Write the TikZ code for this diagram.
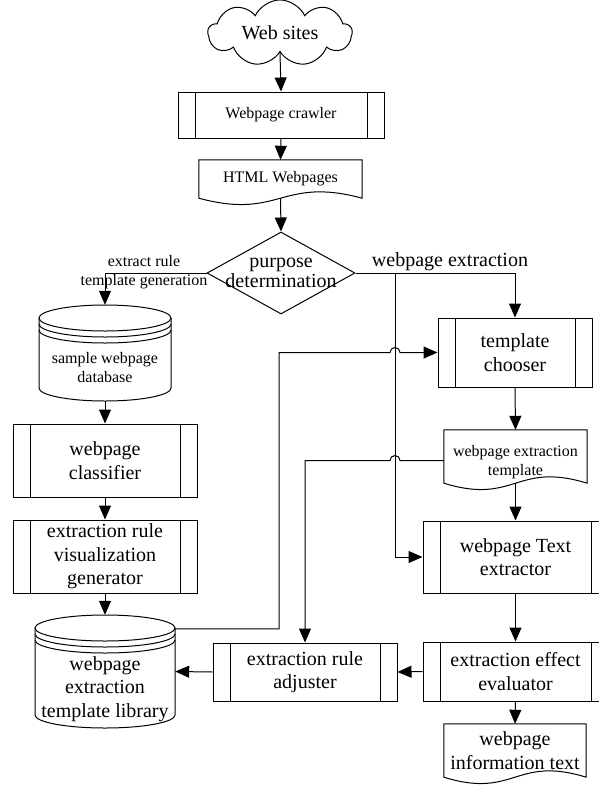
\documentclass[tikz,border=0pt]{standalone}
\usepackage{fontspec}
\setmainfont{Liberation Serif}
\usetikzlibrary{arrows.meta,shapes.symbols,shapes.geometric,calc}

\tikzset{
  lw/.style={line width=1pt},
  arr/.style={line width=1pt, -{Triangle[length=14pt,width=12pt]}},
  big/.style={font=\fontsize{20}{23.5}\selectfont, align=center},
  small/.style={font=\fontsize{16}{19}\selectfont, align=center},
  procbox/.style={draw, line width=1pt, inner sep=0pt, align=center,
    path picture={
      \draw[line width=1pt] ([xshift=17pt]path picture bounding box.north west) -- ([xshift=17pt]path picture bounding box.south west);
      \draw[line width=1pt] ([xshift=-17pt]path picture bounding box.north east) -- ([xshift=-17pt]path picture bounding box.south east);
    }},
  hold/.style={draw=none, inner sep=0pt},
}

% document shape (wavy bottom) around a named node
\newcommand\docoutline[1]{%
  \draw[lw] (#1.south west) -- (#1.north west) -- (#1.north east) -- (#1.south east)
    .. controls ($(#1.south)+(0,-22)$) and ($(#1.south)+(0,22)$) .. (#1.south west) -- cycle;}

% stacked-disk drum: centre x, top y, bottom y, x radius, y radius
\newcommand\drumoutline[5]{%
  \draw[lw] (#1,#2+#5) ellipse[x radius=#4pt, y radius=#5pt];
  \draw[lw] (#1-#4,#2+#5) -- (#1-#4,#3-#5)
    arc[start angle=180, end angle=360, x radius=#4pt, y radius=#5pt] -- (#1+#4,#2+#5);
  \draw[lw] (#1-#4,#2+#5+6) arc[start angle=180, end angle=360, x radius=#4pt, y radius=#5pt];
  \draw[lw] (#1-#4,#2+#5+12) arc[start angle=180, end angle=360, x radius=#4pt, y radius=#5pt];}

\begin{document}
\begin{tikzpicture}[x=1pt, y=-1pt]
\useasboundingbox (0,0) rectangle (598,785);

% ---- top column ----
\node[cloud, draw, line width=1pt, cloud puffs=9, cloud puff arc=130, aspect=2.4,
      minimum width=144pt, minimum height=60pt, inner sep=0pt, big] (web) at (280,33) {Web sites};
\node[procbox, small, minimum width=206pt, minimum height=46pt] (crawl) at (281,115) {Webpage crawler};
\node[hold, small, minimum width=163pt, minimum height=38pt] (html) at (280.5,179) {HTML Webpages};
\docoutline{html}
\node[diamond, draw, line width=1pt, inner sep=0pt, minimum width=148pt, minimum height=82pt] (purp) at (281,273) {};
\node[big, inner sep=0pt, font=\fontsize{20}{20}\selectfont] (purp-t) at (281,273) {purpose\\determination};

% ---- left column ----
\node[hold, minimum width=132pt, minimum height=96pt] (sdb) at (105,353) {};
\drumoutline{105}{305}{401}{66}{13}
\node[small, inner sep=0pt] (sdb-t) at (105,367.5) {sample webpage\\database};
\node[procbox, big, minimum width=184pt, minimum height=73pt] (cls) at (105,460.5) {webpage\\classifier};
\node[procbox, big, minimum width=184pt, minimum height=73pt] (gen) at (105,556.5) {extraction rule\\visualization\\generator};
\node[hold, minimum width=140pt, minimum height=113pt] (lib) at (105,671.5) {};
\drumoutline{105}{615}{728}{70}{13}
\node[big, inner sep=0pt] (lib-t) at (105,689) {webpage\\extraction\\template library};

% ---- right column ----
\node[procbox, big, minimum width=154pt, minimum height=69pt] (choose) at (515,352.5) {template\\chooser};
\node[hold, minimum width=143pt, minimum height=53pt] (tdoc) at (515.5,456.5) {};
\docoutline{tdoc}
\node[small, inner sep=0pt] (tdoc-t) at (515.5,462.5) {webpage extraction\\template};
\node[procbox, big, minimum width=185pt, minimum height=72pt] (extr) at (515.5,557) {webpage Text\\extractor};
\node[procbox, big, minimum width=185pt, minimum height=59pt] (eval) at (515.5,671.5) {extraction effect\\evaluator};
\node[hold, big, minimum width=142pt, minimum height=53pt] (info) at (515,750.5) {webpage\\information text};
\docoutline{info}
\node[procbox, big, minimum width=184pt, minimum height=58pt] (adj) at (305,672) {extraction rule\\adjuster};

% ---- branch labels ----
\node[small, inner sep=0pt] (lbl-gen) at (144,272.5) {extract rule\\template generation};
\node[big, inner sep=0pt, anchor=base] (lbl-ext) at (450,266) {webpage extraction};

% ---- connectors ----
\coordinate (br) at (395,273);
\coordinate (lkx) at (279,0);
\coordinate (lib-out) at ([yshift=-14pt]lib.north east);
\coordinate (tdoc-out) at ([yshift=-4pt]tdoc.west);

\draw[arr] (web.south) -- (crawl.north);
\draw[arr] (crawl.south) -- (html.north);
\draw[arr] (html.south) -- (purp.north);
\draw[arr] (purp.west) -| (sdb.north);
\draw[arr] (purp.east) -| (choose.north);
\draw[arr] (br) |- (extr.west);
\draw[arr] (sdb.south) -- (cls.north);
\draw[arr] (cls.south) -- (gen.north);
\draw[arr] (gen.south) -- (lib.north);
\draw[arr] (lib-out) -| (lkx |- choose.west) -- ([xshift=-5pt]br |- choose.west)
   arc[start angle=180, end angle=0, radius=5pt] -- (choose.west);
\draw[arr] (choose.south) -- (tdoc.north);
\draw[arr] (tdoc-out) -- ([xshift=5pt]br |- tdoc-out)
   arc[start angle=0, end angle=180, radius=5pt] -| (adj.north);
\draw[arr] (tdoc.south) -- (extr.north);
\draw[arr] (extr.south) -- (eval.north);
\draw[arr] (eval.south) -- (info.north);
\draw[arr] (eval.west) -- (adj.east);
\draw[arr] (adj.west) -- (lib.east);
\end{tikzpicture}
\end{document}
